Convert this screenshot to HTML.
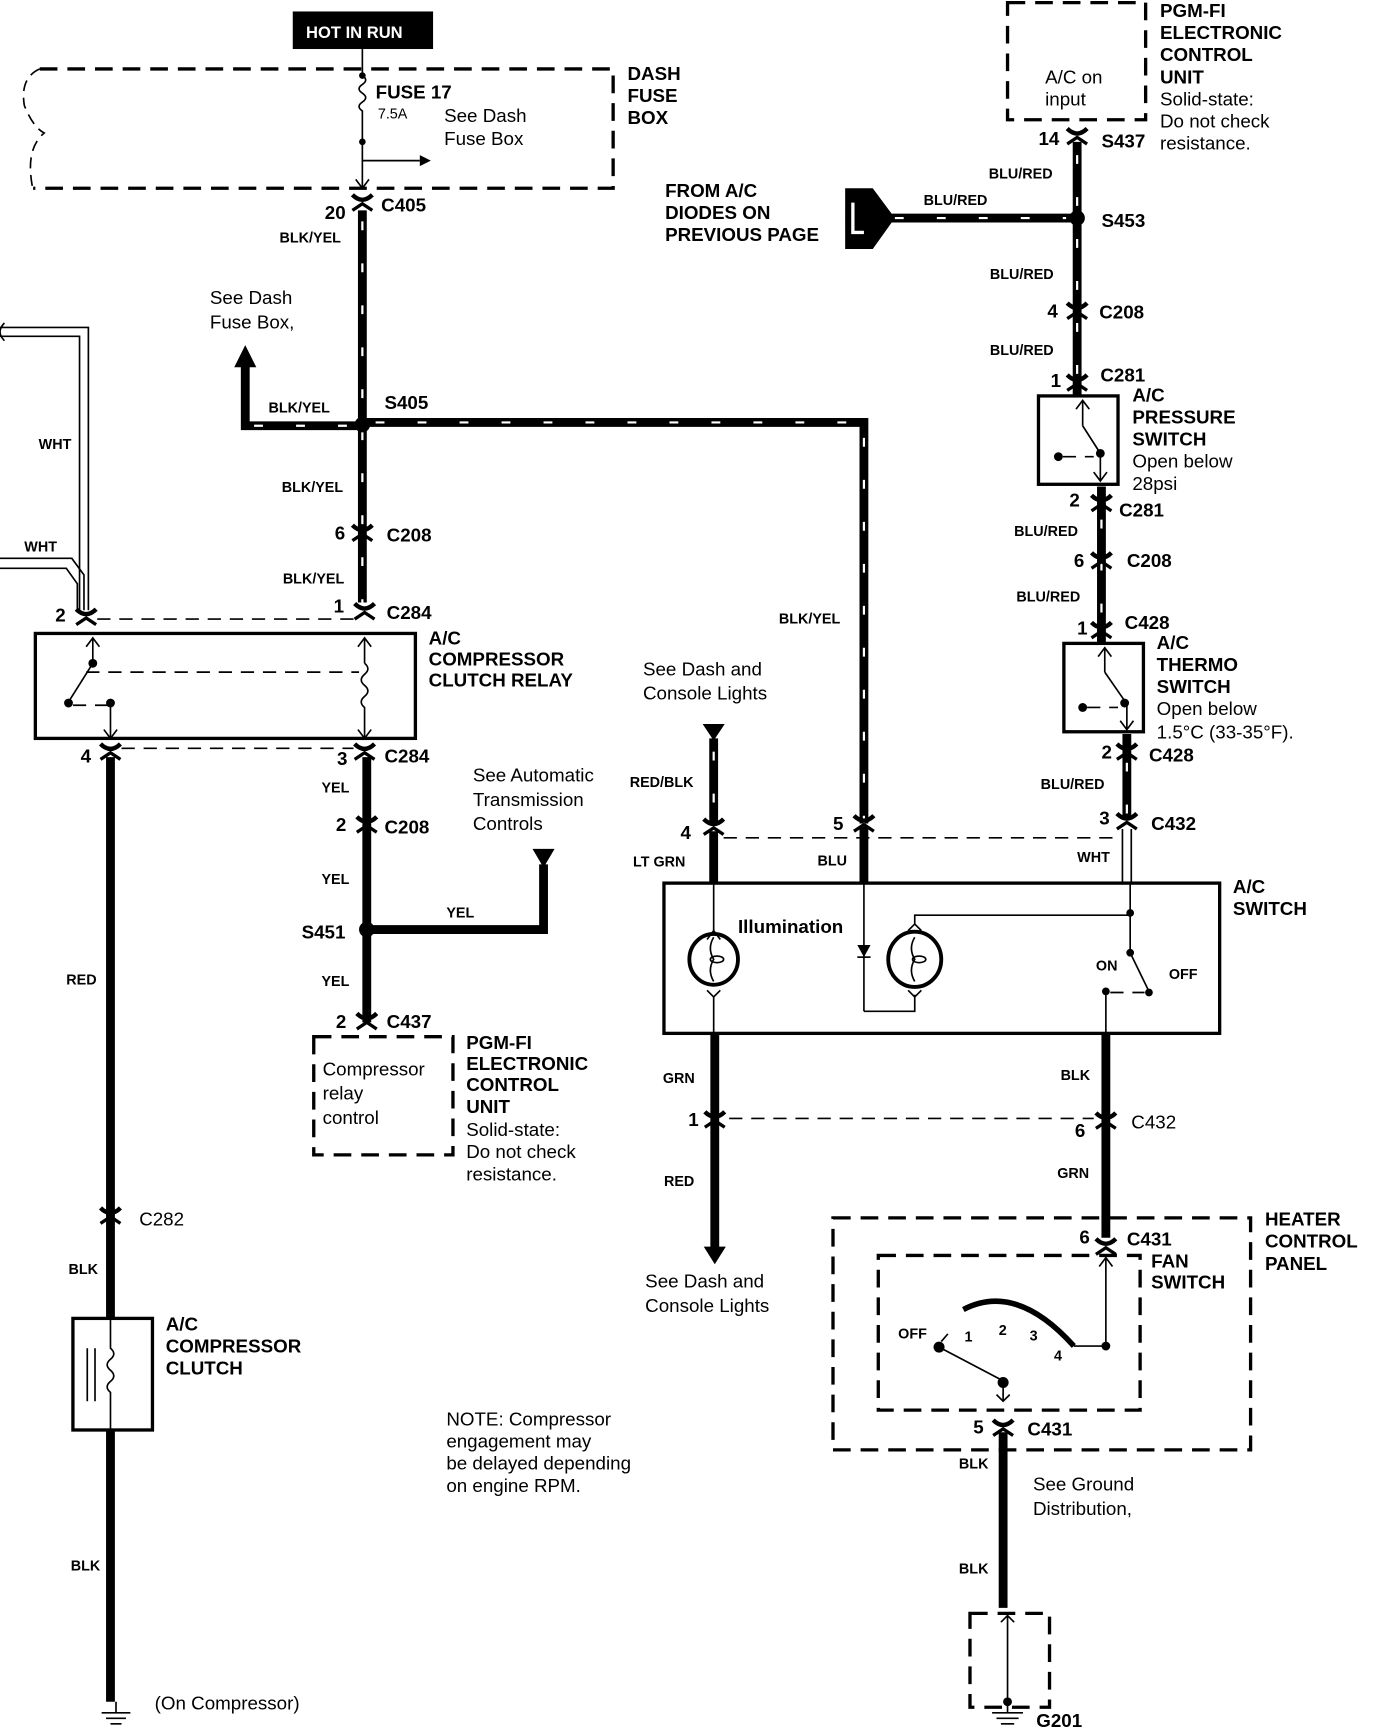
<!DOCTYPE html>
<html><head><meta charset="utf-8"><style>
html,body{margin:0;padding:0;background:#fff}
svg{display:block}
text{font-family:"Liberation Sans",Arial,sans-serif;fill:#000}
.b{font-weight:bold;font-size:17px}
.n{font-size:17px}
.s{font-weight:bold;font-size:13px}
.w{stroke:#000;stroke-width:8;fill:none}
.st{stroke:#fff;stroke-width:2;fill:none;stroke-dasharray:8 30}
.t{stroke:#000;stroke-width:1.5;fill:none}
.d{stroke:#000;stroke-width:3;fill:none;stroke-dasharray:16 9}
.dt{stroke:#000;stroke-width:1.5;fill:none;stroke-dasharray:12 8}
.box{stroke:#000;stroke-width:3;fill:none}
</style></head><body>
<svg width="1392" height="1732" viewBox="0 0 1260 1567" xmlns="http://www.w3.org/2000/svg">
<defs>
<g id="cn"><path d="M-9,-7 Q0,2 9,-7" stroke="#000" stroke-width="4" fill="none"/><path d="M-9,7 L0,1 L9,7" stroke="#000" stroke-width="3" fill="none"/></g>
</defs>
<rect x="265" y="10" width="127" height="34" fill="#000"/>
<text x="277" y="34" style="font-size:15px;font-weight:bold;fill:#fff">HOT IN RUN</text>
<path class="d" d="M36,62 H555 V170 H30"/>
<path class="t" d="M36,62 Q18,70 22,95 Q30,115 40,120 Q22,135 30,172" stroke-dasharray="10 6"/>
<line class="t" x1="328" y1="44" x2="328" y2="68"/>
<path class="t" d="M328,68 q6,4 0,8 q-6,4 0,8 q6,4 0,8 q-6,4 0,8 L328,170"/>
<circle cx="328" cy="68" r="3"/><circle cx="328" cy="128" r="3"/>
<line class="t" x1="328" y1="145" x2="380" y2="145"/><path d="M380,140 L390,145 L380,150Z"/>
<path class="t" d="M322,162 L328,170 L334,162"/>
<text class="b" x="340" y="89">FUSE 17</text>
<text x="342" y="107" style="font-size:13px">7.5A</text>
<text class="n" x="402" y="110">See Dash</text><text class="n" x="402" y="131">Fuse Box</text>
<text class="b" x="568" y="72">DASH</text><text class="b" x="568" y="92">FUSE</text><text class="b" x="568" y="112">BOX</text>
<use href="#cn" x="328" y="183"/>
<text class="b" x="294" y="198">20</text><text class="b" x="345" y="191">C405</text>
<line class="w" x1="328" y1="190" x2="328" y2="545"/><line class="st" x1="328" y1="200" x2="328" y2="545"/>
<text class="s" x="253" y="219">BLK/YEL</text>
<text class="n" x="190" y="275">See Dash</text><text class="n" x="190" y="297">Fuse Box,</text>
<path class="w" d="M222,330 V385 H328"/><line class="st" x1="230" y1="385" x2="320" y2="385"/>
<path d="M212,332 L222,312 L232,332Z"/>
<text class="s" x="243" y="373">BLK/YEL</text>
<path class="w" d="M328,382 H782 V745"/><path class="st" d="M340,382 H782 V745"/>
<circle cx="328" cy="384" r="7"/>
<text class="b" x="348" y="370">S405</text>
<text class="s" x="255" y="445">BLK/YEL</text>
<use href="#cn" x="328" y="482"/>
<text class="b" x="303" y="488">6</text><text class="b" x="350" y="490">C208</text>
<text class="s" x="256" y="528">BLK/YEL</text>
<use href="#cn" x="330" y="553"/>
<text class="b" x="302" y="554">1</text><text class="b" x="350" y="560">C284</text>
<path class="t" d="M0,296 H80 V552"/><path class="t" d="M0,304 H72 V552"/>
<path class="t" d="M0,505 H65 L76,520 V552"/><path class="t" d="M0,514 H60 L70,528 V552"/>
<path d="M4,292 q-8,8 0,16" class="t"/>
<text class="s" x="35" y="406">WHT</text><text class="s" x="22" y="499">WHT</text>
<use href="#cn" x="78" y="558"/>
<text class="b" x="50" y="562">2</text>
<line class="dt" x1="88" y1="560" x2="320" y2="560"/>
<rect class="box" x="32" y="573" width="344" height="95"/>
<line class="t" x1="84" y1="577" x2="84" y2="600"/><path class="t" d="M78,585 L84,577 L90,585"/>
<circle cx="84" cy="600" r="4"/><line class="t" x1="84" y1="600" x2="62" y2="635"/><circle cx="62" cy="636" r="4"/>
<path class="dt" d="M66,638 H100"/><circle cx="100" cy="636" r="4"/>
<line class="t" x1="100" y1="636" x2="100" y2="668"/><path class="t" d="M94,660 L100,668 L106,660"/>
<line class="dt" x1="78" y1="608" x2="325" y2="608"/>
<line class="t" x1="330" y1="577" x2="330" y2="600"/><path class="t" d="M324,585 L330,577 L336,585"/>
<path class="t" d="M330,600 q6,5 0,10 q-6,5 0,10 q6,5 0,10 q-6,5 0,10 V668"/><path class="t" d="M324,660 L330,668 L336,660"/>
<text class="b" x="388" y="583">A/C</text><text class="b" x="388" y="602">COMPRESSOR</text><text class="b" x="388" y="621">CLUTCH RELAY</text>
<line class="dt" x1="110" y1="677" x2="320" y2="677"/>
<use href="#cn" x="100" y="680"/><use href="#cn" x="330" y="680"/>
<text class="b" x="73" y="690">4</text><text class="b" x="305" y="692">3</text><text class="b" x="348" y="690">C284</text>
<line class="w" x1="100" y1="685" x2="100" y2="1193"/>
<text class="s" x="60" y="891">RED</text>
<use href="#cn" x="100" y="1100"/>
<text class="n" x="126" y="1109">C282</text>
<text class="s" x="62" y="1153">BLK</text>
<rect class="box" x="66" y="1193" width="72" height="101"/>
<line class="t" x1="79" y1="1220" x2="79" y2="1268"/><line class="t" x1="86" y1="1220" x2="86" y2="1268"/>
<path class="t" d="M100,1193 V1220 q6,5 0,10 q-6,5 0,10 q6,5 0,10 q-6,5 0,10 V1294"/>
<text class="b" x="150" y="1204">A/C</text><text class="b" x="150" y="1224">COMPRESSOR</text><text class="b" x="150" y="1244">CLUTCH</text>
<line class="w" x1="100" y1="1294" x2="100" y2="1540"/>
<text class="s" x="64" y="1421">BLK</text>
<line class="t" x1="105" y1="1540" x2="105" y2="1550"/>
<line class="t" x1="92" y1="1550" x2="118" y2="1550"/><line class="t" x1="96" y1="1555" x2="114" y2="1555"/><line class="t" x1="100" y1="1560" x2="110" y2="1560"/>
<text class="n" x="140" y="1547">(On Compressor)</text>
<line class="w" x1="332" y1="685" x2="332" y2="925"/>
<text class="s" x="291" y="717">YEL</text>
<use href="#cn" x="332" y="746"/>
<text class="b" x="304" y="752">2</text><text class="b" x="348" y="754">C208</text>
<text class="s" x="291" y="800">YEL</text>
<path class="w" d="M332,841 H492 V782"/>
<path d="M482,768 H502 L492,785Z"/>
<circle cx="332" cy="841" r="7"/>
<text class="s" x="404" y="830">YEL</text>
<text class="b" x="273" y="849">S451</text>
<text class="n" x="428" y="707">See Automatic</text><text class="n" x="428" y="729">Transmission</text><text class="n" x="428" y="751">Controls</text>
<text class="s" x="291" y="892">YEL</text>
<use href="#cn" x="332" y="924"/>
<text class="b" x="304" y="930">2</text><text class="b" x="350" y="930">C437</text>
<rect class="d" x="284" y="938" width="126" height="107"/>
<text class="n" x="292" y="973">Compressor</text><text class="n" x="292" y="995">relay</text><text class="n" x="292" y="1017">control</text>
<text class="b" x="422" y="949">PGM-FI</text><text class="b" x="422" y="968">ELECTRONIC</text><text class="b" x="422" y="987">CONTROL</text><text class="b" x="422" y="1007">UNIT</text>
<text class="n" x="422" y="1028">Solid-state:</text><text class="n" x="422" y="1048">Do not check</text><text class="n" x="422" y="1068">resistance.</text>
<text class="n" x="404" y="1290">NOTE: Compressor</text><text class="n" x="404" y="1310">engagement may</text><text class="n" x="404" y="1330">be delayed depending</text><text class="n" x="404" y="1350">on engine RPM.</text>
<rect class="d" x="912" y="2" width="125" height="106"/>
<text class="n" x="946" y="75">A/C on</text><text class="n" x="946" y="95">input</text>
<text class="b" x="1050" y="15">PGM-FI</text><text class="b" x="1050" y="35">ELECTRONIC</text><text class="b" x="1050" y="55">CONTROL</text><text class="b" x="1050" y="75">UNIT</text>
<text class="n" x="1050" y="95">Solid-state:</text><text class="n" x="1050" y="115">Do not check</text><text class="n" x="1050" y="135">resistance.</text>
<use href="#cn" x="975" y="123"/>
<text class="b" x="940" y="131">14</text><text class="b" x="997" y="133">S437</text>
<line class="w" x1="975" y1="128" x2="975" y2="358"/><line class="st" x1="975" y1="140" x2="975" y2="350"/>
<text class="s" x="895" y="161">BLU/RED</text>
<path class="w" d="M800,197 H975"/><line class="st" x1="810" y1="197" x2="965" y2="197"/>
<path d="M765,170 L790,170 L810,197 L790,225 L765,225Z"/>
<path d="M772,183 V210 H782" stroke="#fff" stroke-width="3" fill="none"/>
<circle cx="975" cy="197" r="7"/>
<text class="b" x="997" y="205">S453</text>
<text class="s" x="836" y="185">BLU/RED</text>
<text class="b" x="602" y="178">FROM A/C</text><text class="b" x="602" y="198">DIODES ON</text><text class="b" x="602" y="218">PREVIOUS PAGE</text>
<text class="s" x="896" y="252">BLU/RED</text>
<use href="#cn" x="975" y="281"/>
<text class="b" x="948" y="287">4</text><text class="b" x="995" y="288">C208</text>
<text class="s" x="896" y="321">BLU/RED</text>
<use href="#cn" x="975" y="346"/>
<text class="b" x="951" y="350">1</text><text class="b" x="996" y="345">C281</text>
<rect x="940" y="358" width="72" height="80" fill="#fff" stroke="#000" stroke-width="3"/>
<line class="t" x1="980" y1="362" x2="980" y2="385"/><path class="t" d="M974,370 L980,362 L986,370"/>
<line class="t" x1="980" y1="385" x2="996" y2="410"/><circle cx="996" cy="410" r="4"/>
<circle cx="958" cy="413" r="4"/><path class="dt" d="M962,413 H990"/>
<line class="t" x1="996" y1="410" x2="996" y2="435"/><path class="t" d="M990,427 L996,435 L1002,427"/>
<text class="b" x="1025" y="363">A/C</text><text class="b" x="1025" y="383">PRESSURE</text><text class="b" x="1025" y="403">SWITCH</text>
<text class="n" x="1025" y="423">Open below</text><text class="n" x="1025" y="443">28psi</text>
<line class="w" x1="997" y1="440" x2="997" y2="582"/><line class="st" x1="997" y1="470" x2="997" y2="575"/>
<use href="#cn" x="997" y="455"/>
<text class="b" x="968" y="458">2</text><text class="b" x="1013" y="467">C281</text>
<text class="s" x="918" y="485">BLU/RED</text>
<use href="#cn" x="997" y="507"/>
<text class="b" x="972" y="513">6</text><text class="b" x="1020" y="513">C208</text>
<text class="s" x="920" y="544">BLU/RED</text>
<use href="#cn" x="997" y="570"/>
<text class="b" x="975" y="574">1</text><text class="b" x="1018" y="569">C428</text>
<rect x="963" y="582" width="72" height="80" fill="#fff" stroke="#000" stroke-width="3"/>
<line class="t" x1="1000" y1="586" x2="1000" y2="608"/><path class="t" d="M994,594 L1000,586 L1006,594"/>
<line class="t" x1="1000" y1="608" x2="1018" y2="634"/><circle cx="1018" cy="636" r="4"/>
<circle cx="980" cy="640" r="4"/><path class="dt" d="M984,640 H1012"/>
<line class="t" x1="1020" y1="636" x2="1020" y2="660"/><path class="t" d="M1014,652 L1020,660 L1026,652"/>
<text class="b" x="1047" y="587">A/C</text><text class="b" x="1047" y="607">THERMO</text><text class="b" x="1047" y="627">SWITCH</text>
<text class="n" x="1047" y="647">Open below</text><text class="n" x="1047" y="668">1.5°C (33-35°F).</text>
<line class="w" x1="1020" y1="664" x2="1020" y2="740"/><line class="st" x1="1020" y1="690" x2="1020" y2="740"/>
<use href="#cn" x="1020" y="680"/>
<text class="b" x="997" y="686">2</text><text class="b" x="1040" y="689">C428</text>
<text class="s" x="942" y="714">BLU/RED</text>
<use href="#cn" x="1020" y="743"/>
<text class="b" x="995" y="746">3</text><text class="b" x="1042" y="751">C432</text>
<text class="s" x="975" y="780">WHT</text>
<line class="t" x1="1016" y1="750" x2="1016" y2="800"/><line class="t" x1="1024" y1="750" x2="1024" y2="800"/>
<line class="dt" x1="655" y1="758" x2="1010" y2="758"/>
<line class="w" x1="646" y1="668" x2="646" y2="745"/><line class="st" x1="646" y1="680" x2="646" y2="745"/>
<path d="M636,655 H656 L646,670Z"/>
<text class="n" x="582" y="611">See Dash and</text><text class="n" x="582" y="633">Console Lights</text>
<text class="s" x="570" y="712">RED/BLK</text>
<use href="#cn" x="646" y="748"/><use href="#cn" x="782" y="745"/>
<line class="w" x1="646" y1="752" x2="646" y2="798"/><line class="w" x1="782" y1="748" x2="782" y2="798"/>
<text class="b" x="616" y="759">4</text><text class="b" x="754" y="751">5</text>
<text class="s" x="573" y="784">LT GRN</text><text class="s" x="740" y="783">BLU</text>
<text class="s" x="705" y="564">BLK/YEL</text>
<rect class="box" x="601" y="799" width="503" height="136"/>
<line class="t" x1="646" y1="800" x2="646" y2="842"/><path class="t" d="M640,850 L646,842 L652,850"/>
<ellipse cx="646" cy="868" rx="22" ry="23" stroke="#000" stroke-width="3.5" fill="none"/>
<path class="t" d="M646,848 q-6,10 0,20 q-6,10 0,20"/><ellipse cx="649" cy="868" rx="6" ry="3" class="t"/>
<path class="t" d="M640,896 L646,902 L652,896 M646,902 V935"/>
<text x="668" y="844" style="font-size:17px;font-weight:bold">Illumination</text>
<line class="t" x1="782" y1="800" x2="782" y2="915"/><path d="M776,855 H788 L782,866Z"/><line class="t" x1="776" y1="866" x2="788" y2="866"/>
<path class="t" d="M782,915 H828 V900"/><path class="t" d="M822,896 L828,902 L834,896"/>
<ellipse cx="828" cy="868" rx="24" ry="25" stroke="#000" stroke-width="3.5" fill="none"/>
<path class="t" d="M828,848 q-6,10 0,20 q-6,10 0,20"/><ellipse cx="832" cy="868" rx="6" ry="3" class="t"/>
<path class="t" d="M822,842 L828,836 L834,842 M828,836 V828 H1023"/>
<circle cx="1023" cy="826" r="3.5"/>
<line class="t" x1="1023" y1="800" x2="1023" y2="862"/><circle cx="1023" cy="862" r="3.5"/>
<line class="t" x1="1023" y1="862" x2="1040" y2="897"/><circle cx="1040" cy="898" r="3.5"/>
<circle cx="1001" cy="897" r="3.5"/><path class="dt" d="M1005,898 H1036"/>
<line class="t" x1="1001" y1="897" x2="1001" y2="935"/>
<text class="s" x="992" y="878">ON</text><text class="s" x="1058" y="886">OFF</text>
<text class="b" x="1116" y="808">A/C</text><text class="b" x="1116" y="828">SWITCH</text>
<line class="w" x1="647" y1="935" x2="647" y2="1130"/>
<path d="M637,1128 H657 L647,1144Z"/>
<text class="s" x="600" y="980">GRN</text>
<use href="#cn" x="647" y="1013"/>
<text class="b" x="623" y="1019">1</text>
<line class="dt" x1="660" y1="1012" x2="990" y2="1012"/>
<text class="s" x="601" y="1073">RED</text>
<text class="n" x="584" y="1165">See Dash and</text><text class="n" x="584" y="1187">Console Lights</text>
<line class="w" x1="1001" y1="935" x2="1001" y2="1120"/>
<text class="s" x="960" y="977">BLK</text>
<use href="#cn" x="1001" y="1014"/>
<text class="b" x="973" y="1029">6</text><text class="n" x="1024" y="1021">C432</text>
<text class="s" x="957" y="1066">GRN</text>
<rect class="d" x="754" y="1102" width="378" height="210"/>
<text class="b" x="1145" y="1109">HEATER</text><text class="b" x="1145" y="1129">CONTROL</text><text class="b" x="1145" y="1149">PANEL</text>
<use href="#cn" x="1001" y="1128"/>
<text class="b" x="977" y="1125">6</text><text class="b" x="1020" y="1127">C431</text>
<rect class="d" x="795" y="1136" width="237" height="140"/>
<text class="b" x="1042" y="1147">FAN</text><text class="b" x="1042" y="1166">SWITCH</text>
<path class="t" d="M1001,1138 V1218 H972"/><path class="t" d="M995,1146 L1001,1138 L1007,1146"/><circle cx="1001" cy="1218" r="4"/>
<path d="M872,1185 Q920,1160 972,1218" stroke="#000" stroke-width="5" fill="none"/>
<circle cx="850" cy="1219" r="5"/><line class="t" x1="850" y1="1219" x2="907" y2="1249"/><circle cx="908" cy="1251" r="5"/>
<line class="t" x1="852" y1="1214" x2="858" y2="1207"/>
<line class="t" x1="908" y1="1251" x2="908" y2="1268"/><path class="t" d="M902,1262 L908,1268 L914,1262"/>
<text class="s" x="813" y="1211">OFF</text><text class="s" x="873" y="1214">1</text><text class="s" x="904" y="1208">2</text><text class="s" x="932" y="1213">3</text><text class="s" x="954" y="1231">4</text>
<use href="#cn" x="908" y="1292"/>
<text class="b" x="881" y="1297">5</text><text class="b" x="930" y="1299">C431</text>
<line class="w" x1="908" y1="1296" x2="908" y2="1455"/>
<text class="s" x="868" y="1329">BLK</text><text class="s" x="868" y="1424">BLK</text>
<text class="n" x="935" y="1349">See Ground</text><text class="n" x="935" y="1371">Distribution,</text>
<rect class="d" x="878" y="1460" width="72" height="85"/>
<path class="t" d="M906,1468 L912,1462 L918,1468 M912,1462 V1540"/><circle cx="912" cy="1540" r="4"/>
<line class="t" x1="912" y1="1540" x2="912" y2="1550"/>
<line class="t" x1="898" y1="1550" x2="926" y2="1550"/><line class="t" x1="902" y1="1555" x2="922" y2="1555"/><line class="t" x1="906" y1="1560" x2="918" y2="1560"/>
<text class="b" x="938" y="1563">G201</text>
</svg>
</body></html>
